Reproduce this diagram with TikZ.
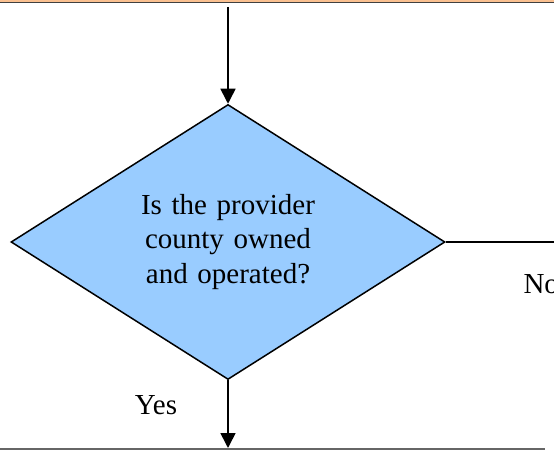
\documentclass[tikz,border=0pt]{standalone}
\usepackage{fontspec}
\setmainfont{Liberation Serif}
\usepackage{tikz}
\usetikzlibrary{arrows.meta, positioning, shapes.geometric}
\definecolor{decisionblue}{RGB}{153,204,255}
\definecolor{boxorange}{RGB}{250,192,144}

\begin{document}
\begin{tikzpicture}[x=1bp, y=-1bp,
        decision/.style={diamond, draw, line width=1.5bp, fill=decisionblue, shape aspect=1.58, minimum width=434bp, minimum height=275bp, inner sep=0pt, text width=180bp, align=center},
        prevbox/.style={draw=black!75, line width=1.5bp, fill=boxorange, minimum width=620bp, minimum height=40bp},
        nextbox/.style={draw=black!60, line width=1.5bp, minimum width=564bp, minimum height=40bp},
        arrow/.style={-{Triangle[length=15bp, width=15bp]}, line width=1.6bp},
        plain/.style={line width=1.5bp},
        every node/.style={font=\fontsize{29bp}{34.5bp}\selectfont}
    ]
        \useasboundingbox (0,0) rectangle (554,450);

        % Boxes above and below (cut off)
        \node[prevbox, anchor=south] (prev) at (277,3.5) {};
        \node[nextbox, anchor=north] (next) at (262,448) {};

        % Decision
        \node[decision] (owned) at (228,242) {Is the provider county owned and operated?};

        \draw[arrow] ([yshift=-3.5bp]prev.south -| owned.north) -- (owned.north);
        \draw[arrow] (owned.south) -- (owned.south |- next.north);

        \coordinate (noexit) at (554,242);
        \draw[plain] (owned.east) -- (noexit);

        % Labels
        \node (yes) at (156,405) {Yes};
        \node[anchor=west] (no) at (520,284) {No};
\end{tikzpicture}
\end{document}
